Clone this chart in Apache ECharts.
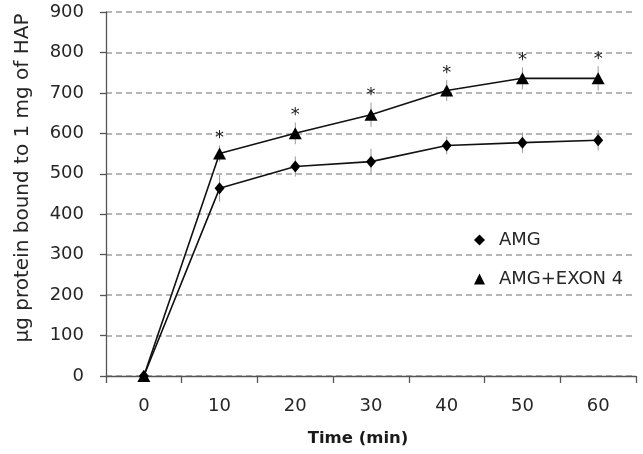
<!DOCTYPE html>
<html>
<head>
<meta charset="utf-8">
<script src="https://cdn.jsdelivr.net/npm/echarts@6/dist/echarts.min.js"></script>
<style>
  html, body { margin: 0; padding: 0; background: #fff; }
  #chart { width: 643px; height: 454px; }
</style>
</head>
<body>
<div id="chart"></div>
<script>
// ---- data ----
const times = ['0', '10', '20', '30', '40', '50', '60'];
const yTicks = [0, 100, 200, 300, 400, 500, 600, 700, 800, 900];
const amg = [0, 464, 518, 530, 570, 577, 583];
const amgErr = [0, 33, 25, 32, 22, 25, 25];
const exon = [0, 550, 600, 646, 706, 736, 736];
const exonErr = [0, 20, 27, 30, 26, 27, 30];
const exonSig = ['', '*', '*', '*', '*', '*', '*'];
const seriesNames = ['AMG', 'AMG+EXON 4'];
const xTitle = 'Time (min)';
const yTitle = 'μg protein bound to 1 mg of HAP';

const FONT = 'DejaVu Sans';
const TXT = '#262626';

const chart = echarts.init(document.getElementById('chart'), null, { renderer: 'canvas' });

function errData(vals, errs) {
  return vals.map((v, i) => [i, v, errs[i]]);
}

function renderErr(params, api) {
  const i = api.value(0), v = api.value(1), e = api.value(2);
  if (!e) return null;
  const top = api.coord([i, v + e]);
  const bot = api.coord([i, v - e]);
  return {
    type: 'line',
    shape: { x1: top[0], y1: top[1], x2: bot[0], y2: bot[1] },
    style: { stroke: '#9a9a9a', lineWidth: 1 }
  };
}

function renderSig(params, api) {
  const i = api.value(0), v = api.value(1), e = api.value(2);
  const s = exonSig[params.dataIndex];
  if (!s) return null;
  const p = api.coord([i, v + e]);
  return {
    type: 'text',
    x: p[0], y: p[1] - 7,
    style: {
      text: s, fontFamily: FONT, fontSize: 18, fill: '#222',
      align: 'center', verticalAlign: 'middle'
    }
  };
}

const option = {
  animation: false,
  backgroundColor: '#fff',
  grid: { left: 106, right: 7, top: 12, bottom: 78, containLabel: false },
  xAxis: {
    type: 'category',
    data: times,
    boundaryGap: true,
    axisLine: { show: true, lineStyle: { color: '#555', width: 1.3 } },
    axisTick: { show: true, inside: false, length: 7, lineStyle: { color: '#555', width: 1.3 } },
    axisLabel: { color: TXT, fontFamily: FONT, fontSize: 18, margin: 21 },
    splitLine: { show: false },
    name: xTitle,
    nameLocation: 'middle',
    nameGap: 54,
    nameTextStyle: { color: '#1a1a1a', fontFamily: FONT, fontSize: 16.5, fontWeight: 'bold', padding: [0, 26, 0, 0] }
  },
  yAxis: {
    type: 'value',
    min: yTicks[0], max: yTicks[yTicks.length - 1], interval: 100,
    axisLine: { show: true, lineStyle: { color: '#555', width: 1.3 } },
    axisTick: { show: true, inside: false, length: 6, lineStyle: { color: '#555', width: 1.3 } },
    axisLabel: { color: TXT, fontFamily: FONT, fontSize: 18, margin: 22 },
    splitLine: { show: true, lineStyle: { color: '#9e9e9e', width: 1.5, type: [6, 4] } }
  },
  graphic: [{
    type: 'text',
    x: 23, y: 178,
    rotation: Math.PI / 2,
    style: {
      text: yTitle, fontFamily: FONT, fontSize: 20, fill: TXT,
      align: 'center', verticalAlign: 'middle'
    }
  }],
  legend: {
    orient: 'vertical',
    left: 469, top: 226,
    itemWidth: 11, itemHeight: 11,
    itemGap: 21,
    data: [
      { name: seriesNames[0], icon: 'diamond' },
      { name: seriesNames[1], icon: 'triangle' }
    ],
    textStyle: { color: TXT, fontFamily: FONT, fontSize: 18, padding: [0, 0, 0, 9] }
  },
  series: [
    {
      type: 'custom', name: 'errA', z: 1, silent: true,
      renderItem: renderErr, data: errData(amg, amgErr)
    },
    {
      type: 'custom', name: 'errE', z: 1, silent: true,
      renderItem: renderErr, data: errData(exon, exonErr)
    },
    {
      type: 'custom', name: 'sig', z: 3, silent: true,
      renderItem: renderSig, data: errData(exon, exonErr)
    },
    {
      type: 'line', name: seriesNames[0], data: amg, z: 2,
      symbol: 'diamond', symbolSize: [10, 12], showAllSymbol: true,
      lineStyle: { color: '#111', width: 1.6 },
      itemStyle: { color: '#000' }
    },
    {
      type: 'line', name: seriesNames[1], data: exon, z: 2,
      symbol: 'triangle', symbolSize: [13, 12], showAllSymbol: true,
      lineStyle: { color: '#111', width: 1.6 },
      itemStyle: { color: '#000' }
    }
  ]
};
chart.setOption(option);
</script>
</body>
</html>
